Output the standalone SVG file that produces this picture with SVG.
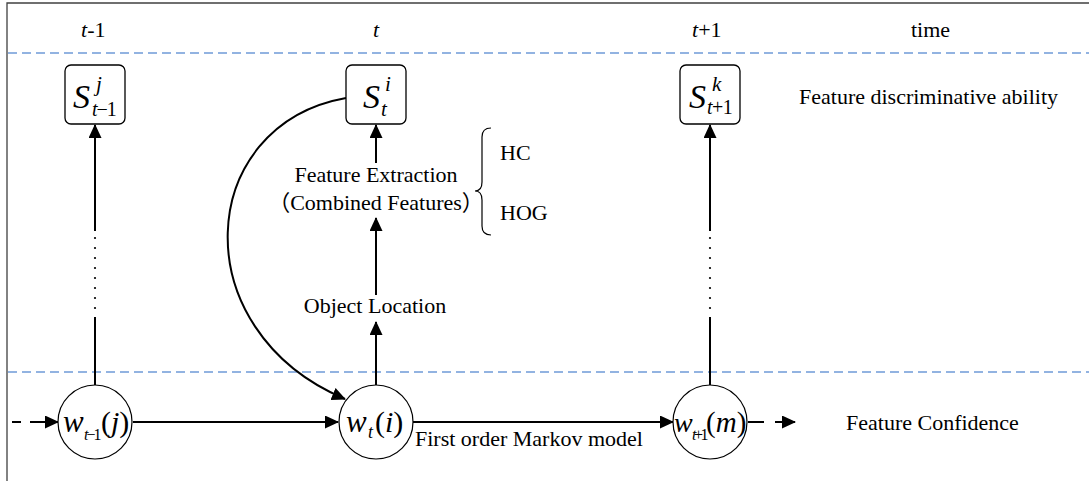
<svg xmlns="http://www.w3.org/2000/svg" width="1089" height="481" viewBox="0 0 1089 481">
<style>
text{font-family:"Liberation Serif","Times New Roman","Noto Sans CJK SC",serif;fill:#000}
.lbl{font-size:22px}
.it{font-style:italic}
.box{fill:#fff;stroke:#000;stroke-width:1.3}
.circ{fill:#fff;stroke:#000;stroke-width:1.2}
.ln{fill:none;stroke:#000;stroke-width:2}
.dl{fill:none;stroke:#6f9bd8;stroke-width:1.5;stroke-dasharray:9 5}
.dot{fill:#000}
</style>
<defs>
<marker id="ah" viewBox="0 0 14 13" refX="13" refY="6.5" markerWidth="14" markerHeight="13" markerUnits="userSpaceOnUse" orient="auto">
<path d="M0,0 L14,6.5 L0,13 Z" fill="#000"/>
</marker>
</defs>
<rect width="1089" height="481" fill="#fff"/>
<path d="M7,481 V3 H1089" fill="none" stroke="#404040" stroke-width="1.3"/>
<g id="guides">
<line class="dl" x1="8" y1="53" x2="1089" y2="53"/>
<line class="dl" x1="8" y1="372" x2="1089" y2="372"/>
</g>
<g id="time-labels" class="lbl">
<text x="81" y="37"><tspan class="it">t</tspan>-1</text>
<text x="373" y="37" class="it">t</text>
<text x="692" y="37"><tspan class="it">t</tspan>+1</text>
<text x="911" y="37">time</text>
</g>
<g id="connectors">
<path class="ln" d="M95,385 V317" />
<path class="ln" d="M95,231 V125" marker-end="url(#ah)"/>
<g class="dot">
<circle cx="95" cy="238" r="1.1"/><circle cx="95" cy="248" r="1.1"/><circle cx="95" cy="258" r="1.1"/><circle cx="95" cy="268" r="1.1"/><circle cx="95" cy="278" r="1.1"/><circle cx="95" cy="288" r="1.1"/><circle cx="95" cy="298" r="1.1"/><circle cx="95" cy="308" r="1.1"/>
</g>
<path class="ln" d="M710,385 V317" />
<path class="ln" d="M710,231 V125" marker-end="url(#ah)"/>
<g class="dot">
<circle cx="710" cy="238" r="1.1"/><circle cx="710" cy="248" r="1.1"/><circle cx="710" cy="258" r="1.1"/><circle cx="710" cy="268" r="1.1"/><circle cx="710" cy="278" r="1.1"/><circle cx="710" cy="288" r="1.1"/><circle cx="710" cy="298" r="1.1"/><circle cx="710" cy="308" r="1.1"/>
</g>
<path class="ln" d="M376,385 V322" marker-end="url(#ah)"/>
<path class="ln" d="M376,295 V218" marker-end="url(#ah)"/>
<path class="ln" d="M376,163 V125" marker-end="url(#ah)"/>
<path class="ln" d="M346,98 C195,125 182,330 345,399" marker-end="url(#ah)"/>
<path class="ln" d="M12,422 H21 M30,422 H58" marker-end="url(#ah)"/>
<path class="ln" d="M133,422 H338" marker-end="url(#ah)"/>
<path class="ln" d="M413,422 H673" marker-end="url(#ah)"/>
<path class="ln" d="M748,422 H764 M775,422 H795" marker-end="url(#ah)"/>
<path d="M491,128 Q482,128 482,137 V182 Q482,191 475,191 Q482,191 482,200 V226 Q482,235 491,235" fill="none" stroke="#000" stroke-width="1.2"/>
</g>
<g id="node-s-tm1">
<rect class="box" x="65" y="65" width="60" height="59" rx="6"/>
<text x="73" y="108" font-size="34"><tspan class="it">S</tspan><tspan x="96" y="91" class="it" font-size="21">j</tspan><tspan x="92" y="116" font-size="20" letter-spacing="-1"><tspan class="it">t</tspan>−1</tspan></text>
</g>
<g id="node-s-t">
<rect class="box" x="346" y="65" width="60" height="59" rx="6"/>
<text x="363" y="108" font-size="34"><tspan class="it">S</tspan><tspan x="385" y="91" class="it" font-size="21">i</tspan><tspan x="381" y="116" class="it" font-size="21">t</tspan></text>
</g>
<g id="node-s-tp1">
<rect class="box" x="680" y="65" width="60" height="59" rx="6"/>
<text x="689" y="108" font-size="34"><tspan class="it">S</tspan><tspan x="712" y="91" class="it" font-size="21">k</tspan><tspan x="707" y="114" font-size="20" letter-spacing="-0.5"><tspan class="it">t</tspan>+1</tspan></text>
</g>
<g id="node-feature-extraction" class="lbl">
<text x="376" y="182" text-anchor="middle">Feature Extraction</text>
<text x="376" y="210" text-anchor="middle">（Combined Features）</text>
<text x="500" y="160">HC</text>
<text x="500" y="220">HOG</text>
</g>
<g id="node-object-location" class="lbl">
<text x="375" y="313" text-anchor="middle">Object Location</text>
</g>
<g id="node-w-tm1">
<circle class="circ" cx="95" cy="422" r="37"/>
<text x="63" y="432" font-size="31"><tspan class="it">w</tspan><tspan x="84" y="440" font-size="16" letter-spacing="-2"><tspan class="it">t</tspan>−1</tspan><tspan x="101" y="432" font-size="30">(<tspan class="it">j</tspan>)</tspan></text>
</g>
<g id="node-w-t">
<circle class="circ" cx="376" cy="422" r="37"/>
<text x="346" y="432" font-size="31"><tspan class="it">w</tspan><tspan x="368" y="438" class="it" font-size="18">t</tspan><tspan x="375" y="432" font-size="30">(<tspan class="it">i</tspan>)</tspan></text>
</g>
<g id="node-w-tp1">
<circle class="circ" cx="710" cy="422" r="37"/>
<text x="674" y="432" font-size="28"><tspan class="it">w</tspan><tspan x="692" y="440" font-size="16" letter-spacing="-2.5"><tspan class="it">t</tspan>+1</tspan><tspan x="706" y="432" font-size="29">(<tspan class="it">m</tspan>)</tspan></text>
</g>
<g id="side-labels" class="lbl">
<text x="799" y="104">Feature discriminative ability</text>
<text x="846" y="430">Feature Confidence</text>
<text x="415" y="446">First order Markov model</text>
</g>
</svg>
